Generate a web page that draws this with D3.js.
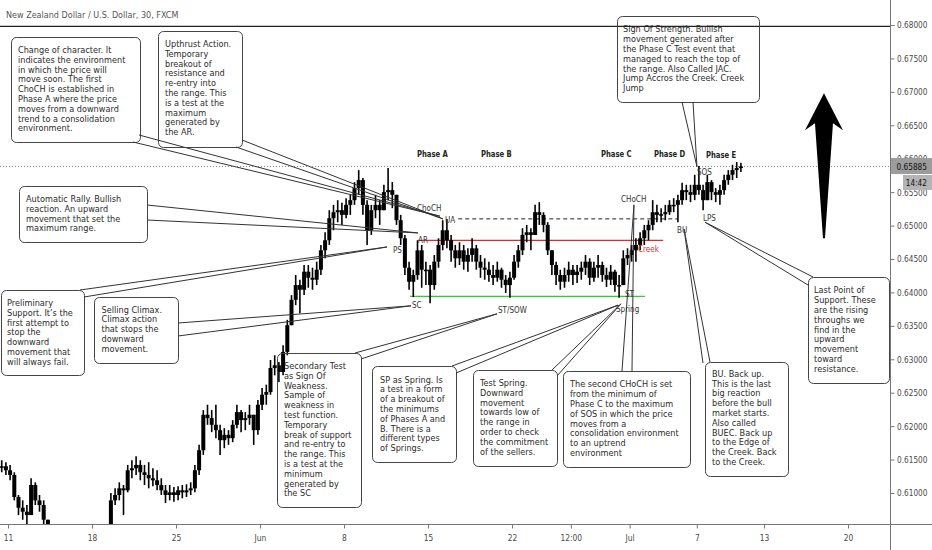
<!DOCTYPE html>
<html>
<head>
<meta charset="utf-8">
<title>NZDUSD 30 - Wyckoff accumulation</title>
<script src="https://cdn.jsdelivr.net/npm/d3@7"></script>
<style>
  html, body { margin: 0; padding: 0; background: #fff; }
  svg { display: block; font-family: "DejaVu Sans", Verdana, sans-serif; }
</style>
</head>
<body>
<div id="chart"></div>
<script>
// ---- data ----
const FIRST_DAY = -0.5;   // trading-day index of first bar, May 11 = 0
const BAR_STEP = 0.25;    // four bars per trading day

const highs = [
  0.6149, 0.6146,                   // May 8
  0.6142, 0.6131, 0.6097, 0.6089,   // May 11
  0.6082, 0.6122, 0.6116, 0.6097,
  0.6089, 0.6060, 0.6040, 0.6025,
  0.6010, 0.5995, 0.5990, 0.5980,
  0.5975, 0.5960, 0.5950, 0.5970,
  0.5985, 0.6000, 0.6020, 0.6040,   // May 18
  0.6100, 0.6107, 0.6116, 0.6112,
  0.6142, 0.6149, 0.6155, 0.6149,
  0.6142, 0.6146, 0.6137, 0.6134,
  0.6122, 0.6112, 0.6112, 0.6109,
  0.6110, 0.6112, 0.6113, 0.6116,   // May 25
  0.6142, 0.6172, 0.6224, 0.6232,
  0.6224, 0.6232, 0.6202, 0.6197,
  0.6194, 0.6209, 0.6232, 0.6224,
  0.6221, 0.6232, 0.6217, 0.6239,
  0.6257, 0.6262, 0.6299, 0.6306,   // Jun 1
  0.6296, 0.6321, 0.6359, 0.6396,
  0.6426, 0.6419, 0.6441, 0.6441,
  0.6437, 0.6446, 0.6471, 0.6490,
  0.6523, 0.6531, 0.6538, 0.6534,
  0.6541, 0.6546, 0.6565, 0.6583,   // Jun 8
  0.6571, 0.6538, 0.6531, 0.6546,
  0.6538, 0.6561, 0.6586, 0.6565,
  0.6546, 0.6516, 0.6486, 0.6446,
  0.6434, 0.6478, 0.6471, 0.6446,
  0.6441, 0.6456, 0.6481, 0.6508,   // Jun 15
  0.6510, 0.6486, 0.6471, 0.6475,
  0.6471, 0.6466, 0.6481, 0.6471,
  0.6456, 0.6451, 0.6446, 0.6441,
  0.6446, 0.6437, 0.6426, 0.6431,
  0.6456, 0.6471, 0.6496, 0.6501,   // Jun 22
  0.6496, 0.6531, 0.6535, 0.6520,
  0.6505, 0.6463, 0.6446, 0.6434,
  0.6437, 0.6446, 0.6441, 0.6441,
  0.6446, 0.6456, 0.6451, 0.6446,
  0.6456, 0.6446, 0.6437, 0.6441,   // Jun 29
  0.6434, 0.6426, 0.6463, 0.6466,
  0.6471, 0.6481, 0.6490, 0.6501,
  0.6508, 0.6538, 0.6531, 0.6526,
  0.6531, 0.6538, 0.6541, 0.6546,
  0.6564, 0.6561, 0.6561, 0.6576,   // Jul 6
  0.6589, 0.6561, 0.6576, 0.6568,
  0.6556, 0.6561, 0.6576, 0.6583,
  0.6591, 0.6595, 0.6594
];
const lows = [
  0.6131, 0.6127,
  0.6119, 0.6089, 0.6067, 0.6060,
  0.6052, 0.6067, 0.6082, 0.6072,
  0.6048, 0.6022, 0.6005, 0.5990,
  0.5975, 0.5965, 0.5960, 0.5950,
  0.5935, 0.5925, 0.5920, 0.5930,
  0.5950, 0.5965, 0.5985, 0.6000,
  0.6045, 0.6082, 0.6089, 0.6067,
  0.6101, 0.6122, 0.6127, 0.6119,
  0.6112, 0.6107, 0.6110, 0.6104,
  0.6097, 0.6085, 0.6089, 0.6087,
  0.6089, 0.6092, 0.6094, 0.6097,
  0.6101, 0.6127, 0.6157, 0.6202,
  0.6191, 0.6182, 0.6157, 0.6167,
  0.6172, 0.6176, 0.6197, 0.6191,
  0.6194, 0.6202, 0.6172, 0.6187,
  0.6224, 0.6232, 0.6247, 0.6276,
  0.6266, 0.6276, 0.6306, 0.6351,
  0.6381, 0.6369, 0.6396, 0.6407,
  0.6404, 0.6411, 0.6426, 0.6451,
  0.6471, 0.6493, 0.6505, 0.6501,
  0.6511, 0.6516, 0.6531, 0.6546,
  0.6516, 0.6471, 0.6486, 0.6511,
  0.6501, 0.6523, 0.6538, 0.6526,
  0.6501, 0.6471, 0.6426, 0.6404,
  0.6393, 0.6419, 0.6407, 0.6411,
  0.6384, 0.6404, 0.6437, 0.6463,
  0.6466, 0.6446, 0.6437, 0.6441,
  0.6434, 0.6431, 0.6446, 0.6434,
  0.6422, 0.6419, 0.6416, 0.6411,
  0.6416, 0.6407, 0.6399, 0.6392,
  0.6419, 0.6437, 0.6456, 0.6475,
  0.6463, 0.6486, 0.6501, 0.6490,
  0.6456, 0.6426, 0.6411, 0.6404,
  0.6407, 0.6416, 0.6411, 0.6414,
  0.6419, 0.6426, 0.6411, 0.6416,
  0.6422, 0.6416, 0.6408, 0.6411,
  0.6401, 0.6392, 0.6411, 0.6441,
  0.6446, 0.6446, 0.6463, 0.6471,
  0.6478, 0.6493, 0.6505, 0.6505,
  0.6508, 0.6516, 0.6520, 0.6505,
  0.6531, 0.6538, 0.6535, 0.6538,
  0.6546, 0.6523, 0.6538, 0.6538,
  0.6535, 0.6531, 0.6546, 0.6561,
  0.6568, 0.6571, 0.6580
];
const closes = [
  0.6140, 0.6134,
  0.6127, 0.6094, 0.6078, 0.6072,
  0.6067, 0.6112, 0.6089, 0.6082,
  0.6060, 0.6037, 0.6015, 0.6000,
  0.5985, 0.5975, 0.5970, 0.5960,
  0.5945, 0.5935, 0.5940, 0.5960,
  0.5975, 0.5990, 0.6010, 0.6035,
  0.6089, 0.6097, 0.6107, 0.6104,
  0.6134, 0.6137, 0.6142, 0.6131,
  0.6127, 0.6122, 0.6119, 0.6112,
  0.6104, 0.6097, 0.6101, 0.6097,
  0.6104, 0.6101, 0.6104, 0.6107,
  0.6134, 0.6164, 0.6217, 0.6212,
  0.6202, 0.6194, 0.6179, 0.6187,
  0.6182, 0.6202, 0.6221, 0.6209,
  0.6212, 0.6217, 0.6194, 0.6232,
  0.6247, 0.6251, 0.6287, 0.6291,
  0.6281, 0.6311, 0.6351, 0.6389,
  0.6411, 0.6404, 0.6431, 0.6422,
  0.6419, 0.6434, 0.6463, 0.6478,
  0.6511, 0.6520, 0.6523, 0.6516,
  0.6531, 0.6538, 0.6556, 0.6568,
  0.6531, 0.6493, 0.6523, 0.6531,
  0.6523, 0.6550, 0.6553, 0.6546,
  0.6508, 0.6481, 0.6437, 0.6416,
  0.6426, 0.6463, 0.6434, 0.6434,
  0.6411, 0.6446, 0.6471, 0.6493,
  0.6478, 0.6463, 0.6451, 0.6463,
  0.6446, 0.6456, 0.6466, 0.6446,
  0.6437, 0.6434, 0.6426, 0.6422,
  0.6434, 0.6419, 0.6411, 0.6422,
  0.6446, 0.6463, 0.6486, 0.6490,
  0.6486, 0.6520, 0.6516, 0.6501,
  0.6463, 0.6441, 0.6426, 0.6416,
  0.6426, 0.6434, 0.6426, 0.6431,
  0.6437, 0.6446, 0.6422, 0.6437,
  0.6441, 0.6426, 0.6419, 0.6431,
  0.6411, 0.6411, 0.6451, 0.6456,
  0.6463, 0.6471, 0.6481, 0.6493,
  0.6501, 0.6520, 0.6516, 0.6517,
  0.6520, 0.6531, 0.6531, 0.6538,
  0.6553, 0.6550, 0.6546, 0.6561,
  0.6553, 0.6538, 0.6565, 0.6550,
  0.6546, 0.6553, 0.6568, 0.6576,
  0.6583, 0.6586, 0.65885
];

const priceTicks = [0.680, 0.675, 0.670, 0.665, 0.660, 0.655, 0.650, 0.645,
                    0.640, 0.635, 0.630, 0.625, 0.620, 0.615, 0.610];
const dayTicks = [0, 5, 10, 15, 20, 25, 30, 33.5, 37, 41, 45, 50];
const dayTickLabels = ['11', '18', '25', 'Jun', '8', '15', '22', '12:00', 'Jul', '7', '13', '20'];

// horizontal drawings: support, creek, UA line, top level
const levelPrices = [0.6394, 0.6478, 0.6510, 0.6798];
const levelFrom = [23.93, 24.4, 26.8, -1];
const levelTo = [37.92, 39.0, 39.82, 53];

const phaseNames = ['Phase A', 'Phase B', 'Phase C', 'Phase D', 'Phase E'];
const markerNames = ['ChoCH', 'UA', 'AR', 'PS', 'SC', 'ST/SOW', 'CHoCH', 'Creek',
                     'ST', 'Spring', 'BU', 'SOS', 'LPS'];

const calloutTexts = [
  ['Change of character. It', 'indicates the environment', 'in which the price will',
   'move soon. The first', 'ChoCH is established in', 'Phase A where the price',
   'moves from a downward', 'trend to a consolidation', 'environment.'],
  ['Upthrust Action.', 'Temporary', 'breakout of', 'resistance and', 're-entry into',
   'the range. This', 'is a test at the', 'maximum', 'generated by', 'the AR.'],
  ['Automatic Rally. Bullish', 'reaction. An upward', 'movement that set the', 'maximum range.'],
  ['Preliminary', 'Support. It\u2019s the', 'first attempt to', 'stop the', 'downward',
   'movement that', 'will always fail.'],
  ['Selling Climax.', 'Climax action', 'that stops the', 'downward', 'movement.'],
  ['Secondary Test', 'as Sign Of', 'Weakness.', 'Sample of', 'weakness in', 'test function.',
   'Temporary', 'break of support', 'and re-entry to', 'the range. This', 'is a test at the',
   'minimum', 'generated by', 'the SC'],
  ['SP as Spring. Is', 'a test in a form', 'of a breakout of', 'the minimums',
   'of Phases A and', 'B. There is a', 'different types', 'of Springs.'],
  ['Test Spring.', 'Downward', 'movement', 'towards low of', 'the range in',
   'order to check', 'the commitment', 'of the sellers.'],
  ['The second CHoCH is set', 'from the minimum of', 'Phase C to the maximum',
   'of SOS in which the price', 'moves from a', 'consolidation environment',
   'to an uptrend', 'environment'],
  ['BU. Back up.', 'This is the last', 'big reaction', 'before the bull', 'market starts.',
   'Also called', 'BUEC. Back up', 'to the Edge of', 'the Creek. Back', 'to the Creek.'],
  ['Last Point of', 'Support. These', 'are the rising', 'throughs we', 'find in the',
   'upward', 'movement', 'toward', 'resistance.'],
  ['Sign Of Strength. Bullish', 'movement generated after', 'the Phase C Test event that',
   'managed to reach the top of', 'the range. Also Called JAC.',
   'Jump Accros the Creek. Creek', 'Jump']
];
// [trading day, price] each callout points at
const calloutTargets = [
  [25.71, 0.6514], [25.89, 0.6510], [24.40, 0.6489], [22.56, 0.6468],
  [23.99, 0.6380], [29.11, 0.6368], [36.31, 0.6381], [36.49, 0.6383],
  [37.26, 0.6531], [40.24, 0.6495], [41.49, 0.6505], [41.01, 0.6588]
];
// big arrow: tip and foot
const arrowDay = 48.57;
const arrowPrices = [0.6698, 0.6481];

// ---- layout ----
const W = 932, H = 550;
const PLOT_R = 890, PLOT_B = 524;
const LINE_H = 9.8;

const calloutBoxes = [
  [11, 37, 140, 142], [158, 31, 242, 147], [19, 186, 147, 242], [1, 290, 84, 375],
  [94, 297, 178, 363], [277, 353, 361, 507], [372, 366, 456, 462], [473, 370, 557, 466],
  [563, 371, 690, 467], [705, 362, 788, 476], [808, 277, 889, 383], [617, 16, 759, 102]
];
const calloutTextPos = [
  [18, 53], [165, 47], [26, 202], [7, 306], [101.5, 312.5], [284, 369],
  [380, 382.5], [480, 386], [570, 387.3], [712, 376.7], [814, 293.3], [623, 32.3]
];
const calloutTails = [
  [[139, 135], [133, 142]], [[242, 140], [236, 147]], [[147, 205], [147, 220]],
  [[80, 290], [84, 297]], [[178, 323], [178, 336]], [[355, 353], [361, 359]],
  [[452, 366], [456, 373]], [[552, 370], [557, 376]], [[622, 371], [632, 371]],
  [[703, 363], [710, 362]], [[808, 285], [813, 277]], [[682, 102], [693, 102]]
];
const phasePos = [[417, 157], [481, 157], [601, 156.5], [654, 157], [706, 158]];
const markerPos = [
  [417, 210.5], [445, 223], [418, 242.5], [393, 253], [412, 308], [498, 312.5],
  [621, 201.5], [638, 251.5], [625, 296.5], [616, 311.5], [677, 233], [697, 175], [703, 220.5]
];

// ---- scales ----
const x = d3.scaleLinear().domain([0, 52.5]).range([8, PLOT_R]);
const y = d3.scaleLinear().domain([0.610, 0.680]).range([493, 25]);

const svg = d3.select('#chart').append('svg')
  .attr('width', W).attr('height', H)
  .attr('viewBox', `0 0 ${W} ${H}`);

svg.append('rect').attr('width', W).attr('height', H).attr('fill', '#fff');

svg.append('clipPath').attr('id', 'plot-clip')
  .append('rect').attr('x', 0).attr('y', 0).attr('width', PLOT_R).attr('height', PLOT_B);

const gPlot = svg.append('g').attr('clip-path', 'url(#plot-clip)');

function label(g, str, px, py, opts = {}) {
  return g.append('text')
    .attr('transform', `translate(${px},${py}) scale(${opts.sx || 0.86},1)`)
    .attr('font-size', opts.size || 9.5)
    .attr('font-weight', opts.weight || 'normal')
    .attr('fill', opts.fill || '#2b2b2b')
    .attr('text-anchor', opts.anchor || 'start')
    .text(str);
}

// ---- horizontal levels ----
const last = closes[closes.length - 1];
gPlot.append('line')
  .attr('x1', 0).attr('x2', PLOT_R)
  .attr('y1', Math.round(y(last)) + 0.5).attr('y2', Math.round(y(last)) + 0.5)
  .attr('stroke', '#8a8a8a').attr('stroke-width', 1).attr('stroke-dasharray', '1,2');

const levelStyles = [
  { stroke: '#33cc33', dash: null, w: 1.2 },
  { stroke: '#d32f2f', dash: null, w: 1.2 },
  { stroke: '#222', dash: '4,3', w: 1 },
  { stroke: '#222', dash: null, w: 1.2 }
];
levelPrices.forEach((p, k) => {
  gPlot.append('line')
    .attr('x1', x(levelFrom[k])).attr('x2', x(levelTo[k]))
    .attr('y1', y(p)).attr('y2', y(p))
    .attr('stroke', levelStyles[k].stroke)
    .attr('stroke-width', levelStyles[k].w)
    .attr('stroke-dasharray', levelStyles[k].dash);
});

// ---- candles ----
const bars = closes.map((c, i) => ({
  t: FIRST_DAY + i * BAR_STEP + BAR_STEP / 2,
  o: i ? closes[i - 1] : c,
  h: highs[i], l: lows[i], c
}));
const bodyW = x(BAR_STEP) - x(0) - 0.2;

const gBars = gPlot.append('g');
gBars.selectAll('line.wick').data(bars).join('line')
  .attr('class', 'wick')
  .attr('x1', d => x(d.t)).attr('x2', d => x(d.t))
  .attr('y1', d => y(d.h)).attr('y2', d => y(d.l))
  .attr('stroke', '#000').attr('stroke-width', 1.6);
gBars.selectAll('rect.body').data(bars).join('rect')
  .attr('class', 'body')
  .attr('x', d => x(d.t) - bodyW / 2)
  .attr('width', bodyW)
  .attr('y', d => y(Math.max(d.o, d.c)))
  .attr('height', d => Math.max(1.5, Math.abs(y(d.o) - y(d.c))))
  .attr('fill', '#000');

// ---- arrow ----
{
  const tipX = x(arrowDay), tipY = y(arrowPrices[0]), footY = y(arrowPrices[1]);
  const pts = [
    [tipX, tipY], [tipX + 19, tipY + 37], [tipX + 9, tipY + 30],
    [tipX + 1, footY], [tipX - 1, footY], [tipX - 9, tipY + 30], [tipX - 19, tipY + 37]
  ];
  gPlot.append('path').attr('d', d3.line()(pts) + 'Z').attr('fill', '#000');
}

// ---- callouts ----
const gNotes = gPlot.append('g');
calloutTexts.forEach((lines, k) => {
  const [x0, y0, x1, y1] = calloutBoxes[k];
  const tx = x(calloutTargets[k][0]), ty = y(calloutTargets[k][1]);
  gNotes.append('rect')
    .attr('x', x0 + 0.5).attr('y', y0 + 0.5)
    .attr('width', x1 - x0).attr('height', y1 - y0)
    .attr('rx', 5).attr('ry', 5)
    .attr('fill', 'none').attr('stroke', '#444').attr('stroke-width', 1);
  calloutTails[k].forEach(([sx, sy]) => {
    gNotes.append('line')
      .attr('x1', sx).attr('y1', sy).attr('x2', tx).attr('y2', ty)
      .attr('stroke', '#333').attr('stroke-width', 1);
  });
  const [lx, ly] = calloutTextPos[k];
  lines.forEach((s, j) => label(gNotes, s, lx, ly + j * LINE_H));
});

// ---- phase & event labels ----
phaseNames.forEach((s, k) =>
  label(gNotes, s, phasePos[k][0], phasePos[k][1], { weight: 'bold', sx: 0.72, fill: '#222' }));
markerNames.forEach((s, k) =>
  label(gNotes, s, markerPos[k][0], markerPos[k][1],
        { sx: 0.76, fill: s === 'Creek' ? '#d32f2f' : '#333' }));

// ---- frame ----
svg.append('line').attr('x1', 0).attr('x2', W).attr('y1', PLOT_B + 0.5).attr('y2', PLOT_B + 0.5)
  .attr('stroke', '#777');
svg.append('line').attr('x1', PLOT_R + 0.5).attr('x2', PLOT_R + 0.5).attr('y1', 0).attr('y2', H)
  .attr('stroke', '#777');

// ---- price axis ----
const yAxis = svg.append('g').attr('transform', `translate(${PLOT_R + 0.5},0)`)
  .call(d3.axisRight(y).tickValues(priceTicks).tickFormat(d3.format('.5f')).tickSize(4));
yAxis.select('.domain').remove();
yAxis.selectAll('line').attr('stroke', '#777');
yAxis.selectAll('text')
  .attr('x', 0)
  .attr('transform', 'translate(6.5,0) scale(0.8,1)')
  .attr('font-size', 9.2).attr('font-family', '"DejaVu Sans", Verdana, sans-serif')
  .attr('fill', '#4a4a4a');

// ---- time axis ----
const xAxis = svg.append('g').attr('transform', `translate(0,${PLOT_B + 0.5})`)
  .call(d3.axisBottom(x).tickValues(dayTicks).tickFormat((d, i) => dayTickLabels[i]).tickSize(4));
xAxis.select('.domain').remove();
xAxis.selectAll('line').attr('stroke', '#777');
xAxis.selectAll('text')
  .attr('y', 0).attr('dy', 0)
  .attr('transform', 'translate(0,16.5) scale(0.82,1)')
  .attr('font-size', 9.2).attr('font-family', '"DejaVu Sans", Verdana, sans-serif')
  .attr('fill', '#4a4a4a');

// ---- last price tag & countdown ----
{
  const ly = Math.round(y(last));
  svg.append('rect').attr('x', PLOT_R + 1).attr('y', ly - 8).attr('width', W - PLOT_R - 1).attr('height', 16)
    .attr('fill', '#9c9c9c');
  label(svg, d3.format('.5f')(last), PLOT_R + 6.5, ly + 3.5, { sx: 0.8, size: 9.2, fill: '#111' });
  svg.append('rect').attr('x', 903).attr('y', ly + 9).attr('width', W - 903).attr('height', 15)
    .attr('fill', '#b4b4b4');
  label(svg, '14:42', 927, ly + 20, { sx: 0.8, size: 9.2, fill: '#111', anchor: 'end' });
}

// ---- title ----
label(svg, 'New Zealand Dollar / U.S. Dollar, 30, FXCM', 6, 17.5, { sx: 0.85, size: 9.5, fill: '#555' });
</script>
</body>
</html>
